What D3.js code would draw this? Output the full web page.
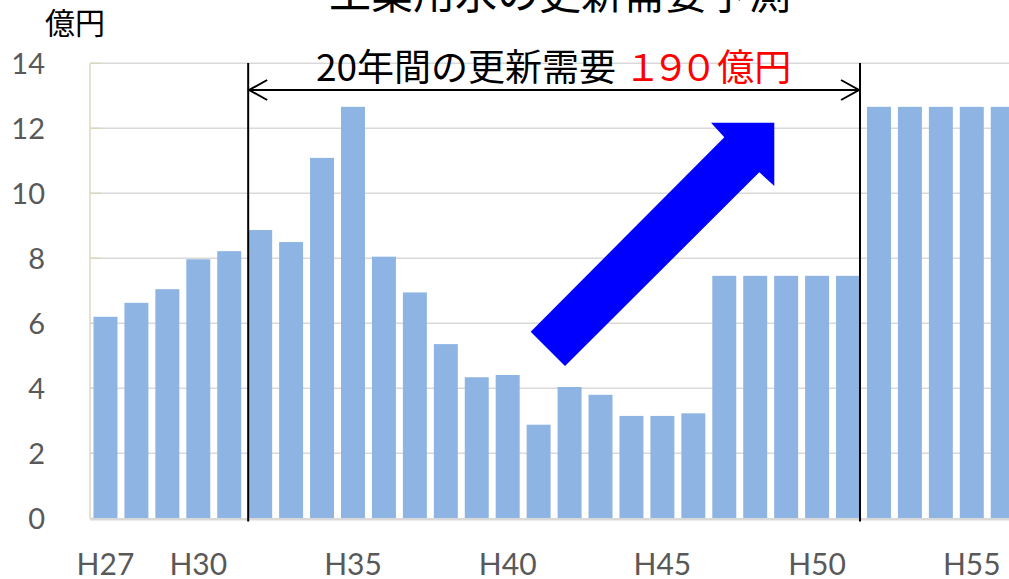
<!DOCTYPE html>
<html>
<head>
<meta charset="utf-8">
<script src="https://cdn.jsdelivr.net/npm/d3@7/dist/d3.min.js"></script>
<style>
	body { margin: 0; background: #fff; }
	svg { display: block; }
	.jp { font-family: "Noto Sans CJK JP", sans-serif; }
	.tick { font-family: Lato, "Open Sans", sans-serif; fill: #595959; }
</style>
</head>
<body>
<div id="js_chart"></div>
<script>
/*globals d3*/
'use strict';

// chart data
const years = ['H27', 'H28', 'H29', 'H30', 'H31', 'H32', 'H33', 'H34', 'H35', 'H36',
	'H37', 'H38', 'H39', 'H40', 'H41', 'H42', 'H43', 'H44', 'H45', 'H46',
	'H47', 'H48', 'H49', 'H50', 'H51', 'H52', 'H53', 'H54', 'H55', 'H56'];
const values = [6.2, 6.63, 7.05, 7.97, 8.22, 8.87, 8.5, 11.09, 12.66, 8.05,
	6.95, 5.36, 4.34, 4.41, 2.88, 4.04, 3.8, 3.15, 3.15, 3.23,
	7.46, 7.46, 7.46, 7.46, 7.46, 12.66, 12.66, 12.66, 12.66, 12.66];
const xTickLabels = ['H27', 'H30', 'H35', 'H40', 'H45', 'H50', 'H55'];
const yTickValues = [0, 2, 4, 6, 8, 10, 12, 14];
const periodStart = 'H32';
const periodEnd = 'H51';

const width = 1009;
const height = 579;
const barColor = '#8eb4e3';
const gridColor = '#d9d9d9';
const axisColor = '#ddd6c1';

const svg = d3.select('#js_chart').append('svg')
	.attr('width', width)
	.attr('height', height);

const xScale = d3.scaleBand()
	.domain(years)
	.range([90, 90 + years.length * 30.94])
	.paddingInner(0.225)
	.paddingOuter(0.1125);

const yScale = d3.scaleLinear()
	.domain([0, 14])
	.range([518.3, 63.3]);

// gridlines
svg.append('g').selectAll('line')
	.data(yTickValues.filter(function (d) { return d > 0; }))
	.enter().append('line')
	.attr('x1', 90).attr('x2', width)
	.attr('y1', function (d) { return yScale(d); })
	.attr('y2', function (d) { return yScale(d); })
	.style('stroke', gridColor)
	.style('stroke-width', 1.5);

// left axis + small ticks
svg.append('line')
	.attr('x1', 90).attr('x2', 90)
	.attr('y1', yScale(14)).attr('y2', yScale(0))
	.style('stroke', axisColor).style('stroke-width', 1.5);
svg.append('g').selectAll('line')
	.data(yTickValues)
	.enter().append('line')
	.attr('x1', 90).attr('x2', 101)
	.attr('y1', function (d) { return yScale(d); })
	.attr('y2', function (d) { return yScale(d); })
	.style('stroke', axisColor).style('stroke-width', 1.5);

// bars
svg.append('g').selectAll('rect')
	.data(values)
	.enter().append('rect')
	.attr('x', function (d, i) { return xScale(years[i]); })
	.attr('y', function (d) { return yScale(d); })
	.attr('width', xScale.bandwidth())
	.attr('height', function (d) { return yScale(0) - yScale(d); })
	.style('fill', barColor);

// baseline
svg.append('line')
	.attr('x1', 90).attr('x2', width)
	.attr('y1', yScale(0) + 1).attr('y2', yScale(0) + 1)
	.style('stroke', gridColor).style('stroke-width', 2.5);

// y tick labels
svg.append('g').selectAll('text')
	.data(yTickValues)
	.enter().append('text')
	.attr('class', 'tick')
	.attr('x', 45)
	.attr('y', function (d) { return yScale(d) + 11; })
	.attr('text-anchor', 'end')
	.style('font-size', '29px')
	.text(function (d) { return d; });

// x tick labels
svg.append('g').selectAll('text')
	.data(xTickLabels)
	.enter().append('text')
	.attr('class', 'tick')
	.attr('x', function (d) { return xScale(d) + xScale.bandwidth() / 2; })
	.attr('y', 575)
	.attr('text-anchor', 'middle')
	.style('font-size', '30px')
	.text(function (d) { return d; });

// unit label
svg.append('text')
	.attr('class', 'jp')
	.attr('x', 45).attr('y', 34)
	.style('font-size', '30px')
	.style('fill', '#000')
	.text('億円');

// title (cut off at the top)
svg.append('text')
	.attr('class', 'jp')
	.attr('x', 329).attr('y', 9)
	.style('font-size', '42px')
	.style('fill', '#000')
	.text('工業用水の更新需要予測');

// period markers
const xLeft = xScale(periodStart);
const xRight = xScale(periodEnd) + xScale.bandwidth();
[xLeft, xRight].forEach(function (x) {
	svg.append('line')
		.attr('x1', x).attr('x2', x)
		.attr('y1', 63).attr('y2', 521.5)
		.style('stroke', '#000').style('stroke-width', 2);
});

// double arrow
const arrowY = 90;
svg.append('line')
	.attr('x1', xLeft + 1).attr('x2', xRight - 1)
	.attr('y1', arrowY).attr('y2', arrowY)
	.style('stroke', '#000').style('stroke-width', 2);
svg.append('polyline')
	.attr('points', [[xLeft + 19, arrowY - 10], [xLeft + 1, arrowY], [xLeft + 19, arrowY + 10]].join(' '))
	.style('fill', 'none').style('stroke', '#000').style('stroke-width', 2);
svg.append('polyline')
	.attr('points', [[xRight - 19, arrowY - 10], [xRight - 1, arrowY], [xRight - 19, arrowY + 10]].join(' '))
	.style('fill', 'none').style('stroke', '#000').style('stroke-width', 2);

// period text
const periodText = svg.append('text')
	.attr('class', 'jp')
	.attr('x', 316).attr('y', 81)
	.style('font-size', '37px');
periodText.append('tspan').style('fill', '#000').text('20年間の更新需要 ');
periodText.append('tspan').style('fill', '#ff0000').style('letter-spacing', '-9px').text('１９０');
periodText.append('tspan').style('fill', '#ff0000').attr('dx', 9).text('億円');

// blue trend arrow
svg.append('polygon')
	.attr('points', [[530.7, 331.7], [724.3, 137.3], [711, 122.7], [774.3, 122.7],
		[774.3, 186], [759.3, 172.3], [565, 366]].join(' '))
	.style('fill', '#0000ff');
</script>
</body>
</html>
